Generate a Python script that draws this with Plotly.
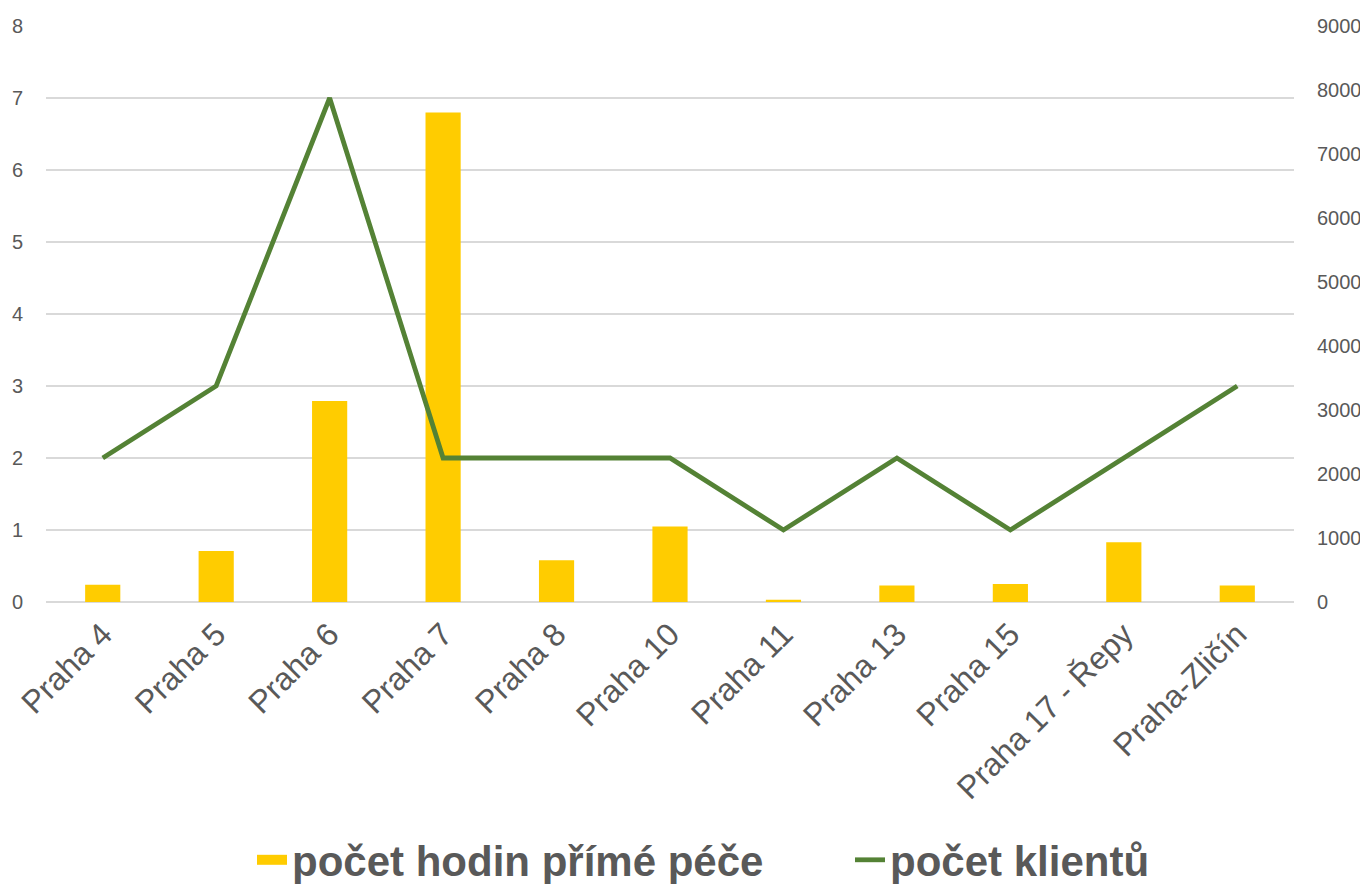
import plotly.graph_objects as go

categories = ["Praha 4", "Praha 5", "Praha 6", "Praha 7", "Praha 8", "Praha 10",
              "Praha 11", "Praha 13", "Praha 15", "Praha 17 - Řepy", "Praha-Zličín"]
hodiny = [0.24, 0.71, 2.79, 6.8, 0.58, 1.05, 0.03, 0.23, 0.25, 0.83, 0.23]
klienti = [2250, 3375, 7875, 2250, 2250, 2250, 1125, 2250, 1125, 2250, 3375]
left_ticks = [0, 1, 2, 3, 4, 5, 6, 7, 8]
right_ticks = [0, 1000, 2000, 3000, 4000, 5000, 6000, 7000, 8000, 9000]

YELLOW = "#FFCC00"
GREEN = "#548235"

fig = go.Figure()
fig.add_trace(go.Bar(
    x=categories, y=hodiny, name="počet hodin přímé péče",
    marker=dict(color=YELLOW, line=dict(width=0)), width=0.31,
    legendgroup="bar", showlegend=False,
))
# legend proxy for the bar series (wide swatch like the original)
fig.add_trace(go.Scatter(
    x=[None], y=[None], name="počet hodin přímé péče", mode="lines",
    line=dict(color=YELLOW, width=23), legendgroup="bar", legend="legend",
))
fig.add_trace(go.Scatter(
    x=categories, y=klienti, name="počet klientů", yaxis="y2",
    mode="lines", line=dict(color=GREEN, width=4.8), legend="legend2",
))

tickfont = dict(family="Liberation Sans, Arial, sans-serif", size=20, color="#595959")
W, H = 1360, 876
ML, MR, MT, MB = 38, 74, 18, 282
legend_font = dict(family="Liberation Sans, Arial, sans-serif", size=42,
                   color="#595959", weight="bold")
fig.update_layout(
    width=W, height=H,
    margin=dict(l=ML, r=MR, t=MT, b=MB, autoexpand=False),
    plot_bgcolor="white", paper_bgcolor="white",
    showlegend=True,
    legend=dict(
        orientation="h", x=244 / W, xanchor="left", xref="container",
        y=24 / H, yanchor="middle", yref="container",
        font=legend_font, itemwidth=30,
    ),
    legend2=dict(
        orientation="h", x=842 / W, xanchor="left", xref="container",
        y=24 / H, yanchor="middle", yref="container",
        font=legend_font, itemwidth=30,
    ),
    xaxis=dict(
        tickangle=-45,
        tickfont=dict(family="Liberation Sans, Arial, sans-serif", size=32, color="#595959"),
        showgrid=False, showline=False, ticks="", automargin=False,
        ticklabelstandoff=6,
    ),
    yaxis=dict(
        range=[0, 8], tickvals=left_ticks, tickfont=tickfont,
        showgrid=True, gridcolor="#D9D9D9", gridwidth=2, zeroline=True,
        zerolinecolor="#D9D9D9", zerolinewidth=2, ticks="", showline=False,
        ticklabelstandoff=22, automargin=False,
    ),
    yaxis2=dict(
        range=[0, 9000], tickvals=right_ticks, tickfont=tickfont,
        overlaying="y", side="right", showgrid=False, zeroline=False,
        ticks="", showline=False, ticklabelstandoff=22, automargin=False,
    ),
)

fig.write_html("out.html")
